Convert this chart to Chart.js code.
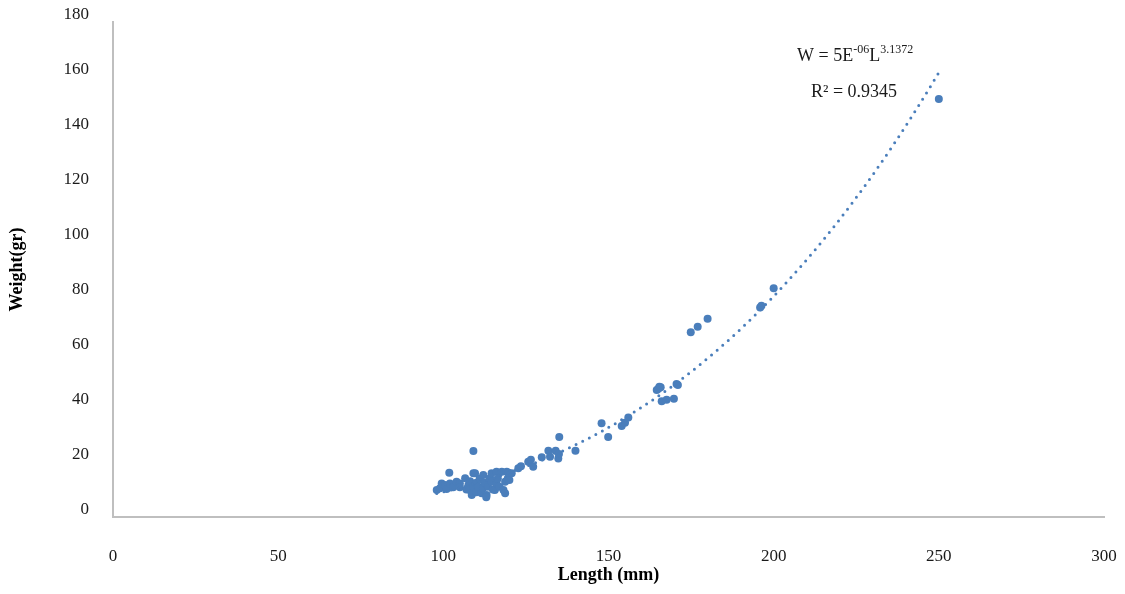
<!DOCTYPE html>
<html>
<head>
<meta charset="utf-8">
<title>Length-weight relationship</title>
<script src="https://cdn.jsdelivr.net/npm/chart.js@4.4.1/dist/chart.umd.min.js"></script>
<style>
  html, body { margin: 0; padding: 0; background: #ffffff; }
</style>
</head>
<body>
<canvas id="lw" width="1125" height="594"></canvas>
<script>
// total length (mm) of each fish
const lengths = [
  98, 99, 99.5, 100.5, 101, 102, 101.8, 103, 104, 105,
  105, 106.6, 107, 107.6, 108, 108.1, 108.6, 109, 109.1, 109.1,
  109.6, 110, 110, 110.6, 111, 111.6, 112, 112.1, 112.5, 113.1,
  113, 113.5, 114, 114.6, 114.6, 115, 115.6, 116.1, 116.1, 116.5,
  117, 117.7, 118.2, 118.7, 118.7, 119.2, 119.5, 119.7, 120, 120.7,
  122.7, 123.5, 125.7, 126.5, 127.2, 129.8, 131.8, 132.3, 134, 134.8,
  135, 135.1, 140, 147.9, 149.9, 154, 155, 156, 164.6, 165.1,
  165.4, 165.8, 166.1, 167.6, 169.8, 170.6, 171, 174.9, 177, 180,
  195.9, 196.3, 200, 250
];
// body weight (g), same order as lengths
const weights = [
  9.8, 10.5, 12.2, 11.6, 10.2, 12.2, 16.1, 10.8, 12.8, 12.2,
  10.8, 14.1, 10, 11.6, 9.8, 13, 8.0, 11, 24, 15.9,
  15.9, 9, 12.5, 11.0, 14, 8.6, 10.5, 15.3, 12.5, 8.0,
  7.2, 11, 14, 15.9, 12.8, 10, 9.8, 16.5, 12.2, 14,
  11, 16.5, 9.8, 12.8, 8.6, 16.5, 14, 16.1, 13.5, 15.9,
  17.7, 18.5, 20.1, 20.8, 18.3, 21.7, 24.1, 21.9, 24.1, 21.3,
  22.9, 29.1, 24.1, 34.1, 29.1, 33.1, 34.3, 36.2, 46.2, 46.6,
  47.4, 47.2, 42.1, 42.6, 43, 48.4, 48, 67.2, 69.2, 72.1,
  76.2, 76.8, 83.2, 152
];

const xTicks = [0, 50, 100, 150, 200, 250, 300];
const yTicks = [0, 20, 40, 60, 80, 100, 120, 140, 160, 180];

// power trendline W = a * L^b (a shown rounded to 5E-06)
const trendA = 4.85e-6;
const trendB = 3.1372;
const trendR2 = 0.9345;

const minL = Math.min(...lengths);
const maxL = Math.max(...lengths);
const trend = [];
for (let L = minL; L <= maxL; L += 2) {
  trend.push({ x: L, y: trendA * Math.pow(L, trendB) });
}
trend.push({ x: maxL, y: trendA * Math.pow(maxL, trendB) });

const points = lengths.map((L, i) => ({ x: L, y: weights[i] }));

const blue = '#4a7ebb';
const serif = "'Liberation Serif', 'DejaVu Serif', serif";
const axisGrey = '#bfbfbf';

// equation and R² written over the upper right of the plot
const equationLabel = {
  id: 'equationLabel',
  afterDraw(chart) {
    const ctx = chart.ctx;
    ctx.save();
    ctx.fillStyle = '#1a1a1a';
    ctx.textBaseline = 'alphabetic';
    ctx.textAlign = 'left';

    let x = 797;
    const y = 61;
    const big = '18px ' + serif;
    const small = '12px ' + serif;
    const parts = [
      ['W = 5E', big, 0],
      ['-06', small, -8],
      ['L', big, 0],
      [trendB.toFixed(4), small, -8]
    ];
    for (const [txt, font, dy] of parts) {
      ctx.font = font;
      ctx.fillText(txt, x, y + dy);
      x += ctx.measureText(txt).width;
    }

    ctx.font = big;
    ctx.fillText('R\u00B2 = ' + trendR2.toFixed(4), 811, 97);
    ctx.restore();
  }
};

new Chart(document.getElementById('lw'), {
  type: 'scatter',
  data: {
    datasets: [
      {
        label: 'Trend',
        type: 'line',
        data: trend,
        borderColor: blue,
        borderWidth: 3,
        borderDash: [0, 7.4],
        borderCapStyle: 'round',
        pointRadius: 0,
        fill: false,
        tension: 0
      },
      {
        label: 'Weight',
        data: points,
        backgroundColor: blue,
        borderWidth: 0,
        pointRadius: 4,
        pointHoverRadius: 4
      }
    ]
  },
  options: {
    responsive: false,
    animation: false,
    layout: { padding: 0 },
    plugins: {
      legend: { display: false },
      tooltip: { enabled: false }
    },
    scales: {
      x: {
        type: 'linear',
        min: 0,
        max: 300,
        afterBuildTicks: (scale) => { scale.ticks = xTicks.map(v => ({ value: v })); },
        afterFit: (scale) => {
          scale.height = 77;
          scale.paddingLeft = 0;
          scale.paddingRight = 21;
        },
        grid: { display: false, drawTicks: false },
        border: { display: true, color: axisGrey, width: 2 },
        ticks: {
          padding: 29,
          color: '#1a1a1a',
          font: { family: serif, size: 17 },
          maxRotation: 0
        },
        title: {
          display: true,
          text: 'Length (mm)',
          color: '#000',
          font: { family: serif, size: 18, weight: 'bold' },
          padding: { top: 0, bottom: 8 }
        }
      },
      y: {
        type: 'linear',
        min: 0,
        max: 180,
        afterBuildTicks: (scale) => { scale.ticks = yTicks.map(v => ({ value: v })); },
        afterFit: (scale) => {
          scale.width = 113;
          scale.paddingTop = 22;
          scale.paddingBottom = 0;
        },
        grid: { display: false, drawTicks: false },
        border: { display: true, color: axisGrey, width: 2 },
        ticks: {
          padding: 24,
          labelOffset: -7,
          color: '#1a1a1a',
          font: { family: serif, size: 17 }
        },
        title: {
          display: true,
          text: 'Weight(gr)',
          color: '#000',
          font: { family: serif, size: 18, weight: 'bold' },
          padding: { top: 7, bottom: 0 }
        }
      }
    }
  },
  plugins: [equationLabel]
});
</script>
</body>
</html>
